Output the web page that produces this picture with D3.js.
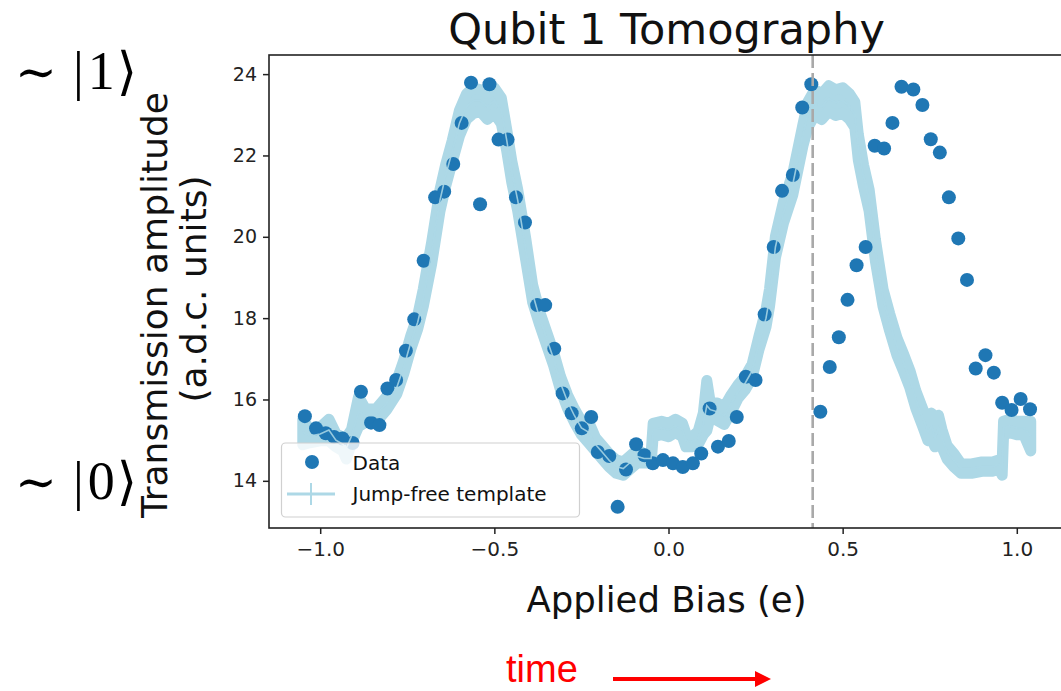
<!DOCTYPE html>
<html>
<head>
<meta charset="utf-8">
<script src="https://cdn.jsdelivr.net/npm/d3@7"></script>
<style>
  html, body { margin: 0; padding: 0; background: #fff; }
  svg { display: block; }
</style>
</head>
<body>
<svg id="chart" width="1061" height="691"></svg>
<script>
// Measured qubit readout versus applied bias
const dataBias = [
  -1.044, -1.012, -0.984, -0.960, -0.936, -0.907, -0.883, -0.854, -0.830, -0.807,
  -0.782, -0.754, -0.730, -0.703, -0.670, -0.644, -0.618, -0.594, -0.567, -0.541,
  -0.514, -0.488, -0.462, -0.438, -0.412, -0.377, -0.354, -0.328, -0.304, -0.278,
  -0.249, -0.222, -0.203, -0.170, -0.146, -0.122, -0.093, -0.069, -0.045, -0.016,
   0.013,  0.041,  0.070,  0.094,  0.118,  0.142,  0.173,  0.196,  0.222,  0.250,
   0.276,  0.302,  0.326,  0.357,  0.384,  0.410,  0.436,  0.463,  0.489,  0.514,
   0.540,  0.566,  0.592,  0.619,  0.643,  0.669,  0.703,  0.729,  0.753,  0.779,
   0.805,  0.832,  0.857,  0.882,  0.910,  0.934,  0.958,  0.985,  1.011,  1.038
];
const dataAmplitude = [
  15.59, 15.29, 15.17, 15.08, 15.04, 14.93, 16.19, 15.43, 15.37, 16.27,
  16.48, 17.20, 17.97, 19.41, 20.97, 21.11, 21.79, 22.80, 23.79, 20.80,
  23.75, 22.39, 22.39, 20.97, 20.35, 18.32, 18.32, 17.25, 16.15, 15.66,
  15.29, 15.57, 14.71, 14.61, 13.36, 14.28, 14.90, 14.63, 14.43, 14.51,
  14.43, 14.34, 14.43, 14.67, 15.78, 14.84, 14.98, 15.57, 16.56, 16.48,
  18.09, 19.75, 21.13, 21.52, 23.18, 23.75, 15.70, 16.80, 17.53, 18.45,
  19.30, 19.75, 22.24, 22.17, 22.80, 23.69, 23.62, 23.24, 22.40, 22.07,
  20.97, 19.96, 18.94, 16.76, 17.09, 16.66, 15.92, 15.74, 16.01, 15.76
];

// Jump-free template: level and error-bar half-height at each bias
const templateBias = [
  -1.050, -1.030, -1.000, -0.975, -0.955, -0.935, -0.925, -0.910, -0.890, -0.870,
  -0.840, -0.810, -0.780, -0.760, -0.740, -0.720, -0.704, -0.680, -0.656, -0.640,
  -0.621, -0.600, -0.580, -0.560, -0.540, -0.520, -0.500, -0.480, -0.465, -0.450,
  -0.433, -0.410, -0.390, -0.370, -0.350, -0.330, -0.310, -0.290, -0.270, -0.250,
  -0.230, -0.210, -0.190, -0.170, -0.150, -0.130, -0.110, -0.090, -0.070, -0.050,
  -0.044, -0.020,  0.000,  0.020,  0.040,  0.050,  0.065,  0.085,  0.100,  0.110,
   0.120,  0.140,  0.160,  0.180,  0.200,  0.220,  0.240,  0.260,  0.280,  0.290,
   0.307,  0.330,  0.357,  0.386,  0.400,  0.420,  0.440,  0.460,  0.480,  0.500,
   0.520,  0.535,  0.545,  0.560,  0.576,  0.594,  0.616,  0.635,  0.656,  0.675,
   0.693,  0.710,  0.730,  0.745,  0.755,  0.765,  0.775,  0.785,  0.800,  0.820,
   0.840,  0.870,  0.900,  0.930,  0.950,  0.958,  0.962,  0.980,  1.000,  1.020,
   1.040
];
const templateLevel = [
  15.20, 15.10, 15.15, 15.25, 15.00, 14.90, 14.80, 15.10, 15.70, 15.60,
  15.60, 15.90, 16.30, 16.80, 17.40, 17.90, 18.50, 19.60, 20.90, 21.50,
  22.10, 22.80, 23.20, 23.35, 23.35, 23.20, 23.35, 23.10, 22.40, 21.60,
  20.90, 19.70, 18.60, 18.00, 17.50, 17.00, 16.40, 15.95, 15.60, 15.30,
  15.20, 14.90, 14.70, 14.50, 14.35, 14.30, 14.45, 14.60, 14.55, 14.55,
  15.25, 15.30, 15.25, 15.35, 15.25, 15.00, 14.95, 15.05, 15.40, 15.85,
  15.75, 15.70, 15.60, 15.90, 16.20, 16.40, 16.70, 17.40, 18.00, 18.50,
  19.75, 20.60, 21.30, 22.50, 23.00, 23.30, 23.20, 23.40, 23.30, 23.35,
  23.20, 23.00, 22.20, 21.50, 20.90, 19.67, 18.50, 17.90, 17.30, 16.90,
  16.50, 16.00, 15.55, 15.20, 15.35, 15.05, 15.30, 15.05, 14.70, 14.50,
  14.30, 14.30, 14.35, 14.35, 14.40, 14.30, 15.30, 15.35, 15.30, 15.30,
  15.10
];
const templateSpread = [
  0.45, 0.30, 0.30, 0.40, 0.30, 0.30, 0.40, 0.30, 0.50, 0.30,
  0.30, 0.30, 0.30, 0.30, 0.30, 0.30, 0.35, 0.40, 0.40, 0.40,
  0.40, 0.45, 0.45, 0.45, 0.40, 0.45, 0.45, 0.45, 0.40, 0.40,
  0.40, 0.40, 0.35, 0.30, 0.30, 0.30, 0.30, 0.30, 0.30, 0.30,
  0.40, 0.30, 0.30, 0.30, 0.30, 0.30, 0.30, 0.30, 0.25, 0.25,
  0.30, 0.30, 0.30, 0.30, 0.30, 0.30, 0.25, 0.30, 0.40, 0.75,
  0.30, 0.35, 0.35, 0.35, 0.30, 0.30, 0.30, 0.30, 0.35, 0.35,
  0.40, 0.40, 0.40, 0.40, 0.45, 0.45, 0.45, 0.45, 0.45, 0.45,
  0.45, 0.45, 0.45, 0.40, 0.40, 0.40, 0.35, 0.35, 0.35, 0.35,
  0.35, 0.35, 0.35, 0.35, 0.45, 0.35, 0.45, 0.35, 0.30, 0.30,
  0.25, 0.25, 0.25, 0.25, 0.25, 0.30, 0.30, 0.30, 0.30, 0.30,
  0.50
];

const xTicks = [-1.0, -0.5, 0.0, 0.5, 1.0];
const yTicks = [14, 16, 18, 20, 22, 24];
const markerBias = [0.414];

const titleText = "Qubit 1 Tomography";
const xLabelText = "Applied Bias (e)";
const yLabelLines = ["Transmission amplitude", "(a.d.c. units)"];
const legendLabels = ["Data", "Jump-free template"];

const FONT = "'DejaVu Sans', sans-serif";
const DATA_COLOR = "#1f77b4";
const TEMPLATE_COLOR = "#add8e6";
const BAND_STROKE = 11;   // px width of the error-bar strokes around the band

const svg = d3.select("#chart");
const defs = svg.append("defs");
const plot = { left: 269, right: 1068, top: 55, bottom: 528 };

const x = d3.scaleLinear().domain([-1.147, 1.147]).range([plot.left, plot.right]);
const y = d3.scaleLinear().domain([12.84, 24.47]).range([plot.bottom, plot.top]);

defs.append("clipPath").attr("id", "plot-clip")
  .append("rect")
  .attr("x", plot.left).attr("y", plot.top)
  .attr("width", plot.right - plot.left).attr("height", plot.bottom - plot.top);

const layer = svg.append("g").attr("clip-path", "url(#plot-clip)");

// template band built from its error bars; the stroke width is taken
// back out of the half-height so the outer edge sits at level ± spread
const template = templateBias.map((b, i) => ({
  b, v: templateLevel[i], s: templateSpread[i]
}));
const inset = v => Math.abs(y.invert(0) - y.invert(BAND_STROKE / 2));
const halfHeight = d => Math.max(d.s - inset(), 0.02);

layer.append("path")
  .datum(template)
  .attr("fill", TEMPLATE_COLOR)
  .attr("stroke", TEMPLATE_COLOR)
  .attr("stroke-width", BAND_STROKE)
  .attr("stroke-linejoin", "round")
  .attr("d", d3.area()
    .x(d => x(d.b))
    .y0(d => y(d.v - halfHeight(d)))
    .y1(d => y(d.v + halfHeight(d))));

// measured points
const points = dataBias.map((b, i) => ({ b, v: dataAmplitude[i] }));
layer.append("g")
  .selectAll("circle")
  .data(points)
  .join("circle")
  .attr("cx", d => x(d.b))
  .attr("cy", d => y(d.v))
  .attr("r", 7)
  .attr("fill", DATA_COLOR);

// template centre line over the points
layer.append("path")
  .datum(template)
  .attr("fill", "none")
  .attr("stroke", TEMPLATE_COLOR)
  .attr("stroke-width", 1.6)
  .attr("opacity", 0.85)
  .attr("d", d3.line().x(d => x(d.b)).y(d => y(d.v)));

// switching bias marker
layer.selectAll("line.marker")
  .data(markerBias)
  .join("line")
  .attr("class", "marker")
  .attr("x1", d => x(d)).attr("x2", d => x(d))
  .attr("y1", plot.top).attr("y2", plot.bottom)
  .attr("stroke", "#a9a9a9")
  .attr("stroke-width", 2.6)
  .attr("stroke-dasharray", "13,5");

// axes
const xAxis = d3.axisBottom(x).tickValues(xTicks).tickSize(6).tickPadding(6)
  .tickFormat(d => d3.format(".1f")(d).replace("-", "\u2212"));
const gx = svg.append("g").attr("transform", `translate(0,${plot.bottom})`).call(xAxis);
gx.select(".domain").remove();
gx.selectAll(".tick line").attr("stroke", "#222").attr("stroke-width", 1.5);
gx.selectAll(".tick text").attr("font-family", FONT).attr("font-size", 20)
  .attr("fill", "#222").attr("dy", "0.78em");

const yAxis = d3.axisLeft(y).tickValues(yTicks).tickSize(6).tickPadding(6)
  .tickFormat(d3.format("d"));
const gy = svg.append("g").attr("transform", `translate(${plot.left},0)`).call(yAxis);
gy.select(".domain").remove();
gy.selectAll(".tick line").attr("stroke", "#222").attr("stroke-width", 1.5);
gy.selectAll(".tick text").attr("font-family", FONT).attr("font-size", 19)
  .attr("fill", "#222");

// frame
svg.append("rect")
  .attr("x", plot.left).attr("y", plot.top)
  .attr("width", plot.right - plot.left).attr("height", plot.bottom - plot.top)
  .attr("fill", "none").attr("stroke", "#222").attr("stroke-width", 1.6);

// title and axis labels
svg.append("text")
  .attr("x", (plot.left + plot.right) / 2 - 2).attr("y", 44)
  .attr("text-anchor", "middle")
  .attr("font-family", FONT).attr("font-size", 43).attr("fill", "#111")
  .text(titleText);

svg.append("text")
  .attr("x", (plot.left + plot.right) / 2 - 2).attr("y", 612)
  .attr("text-anchor", "middle")
  .attr("font-family", FONT).attr("font-size", 35.5).attr("fill", "#111")
  .text(xLabelText);

svg.append("g").selectAll("text")
  .data(yLabelLines)
  .join("text")
  .attr("transform", (d, i) => `translate(${i === 0 ? 167 : 206},${i === 0 ? 305 : 289}) rotate(-90)`)
  .attr("text-anchor", "middle")
  .attr("font-family", FONT).attr("font-size", 36).attr("fill", "#111")
  .text(d => d);

// legend
const legend = svg.append("g");
legend.append("rect")
  .attr("x", 281.5).attr("y", 443).attr("width", 298).attr("height", 74)
  .attr("rx", 4).attr("fill", "#fff").attr("fill-opacity", 0.8)
  .attr("stroke", "#d0d0d0").attr("stroke-width", 1.2);
legend.append("circle")
  .attr("cx", 312).attr("cy", 462).attr("r", 7).attr("fill", DATA_COLOR);
legend.append("line")
  .attr("x1", 287).attr("x2", 335).attr("y1", 494).attr("y2", 494)
  .attr("stroke", TEMPLATE_COLOR).attr("stroke-width", 3);
legend.append("line")
  .attr("x1", 311).attr("x2", 311).attr("y1", 483).attr("y2", 505)
  .attr("stroke", TEMPLATE_COLOR).attr("stroke-width", 2);
legend.selectAll("text.entry")
  .data(legendLabels)
  .join("text")
  .attr("class", "entry")
  .attr("x", 352.5)
  .attr("y", (d, i) => 470 + i * 31)
  .attr("font-family", FONT).attr("font-size", 20).attr("fill", "#111")
  .text(d => d);

// qubit state annotations
const kets = [{ label: "1", y: 89 }, { label: "0", y: 499 }];
const ketGroup = svg.append("g").attr("font-family", "'DejaVu Serif', 'Liberation Serif', serif").attr("fill", "#000");
kets.forEach(k => {
  const t = ketGroup.append("text").attr("x", 15).attr("y", k.y).attr("font-size", 50);
  t.append("tspan").text("\u223C");
  t.append("tspan").attr("dx", 16).attr("font-family", "'Liberation Serif', serif").attr("font-size", 54).text("|");
  t.append("tspan").attr("dx", 4).attr("font-family", "'Liberation Serif', serif").attr("font-size", 54).text(k.label);
  t.append("tspan").attr("dx", 2).attr("font-size", 52).text("\u27E9");
});

// time direction
svg.append("text")
  .attr("x", 506).attr("y", 682)
  .attr("font-family", "'Liberation Sans', Arial, sans-serif")
  .attr("font-size", 38).attr("fill", "#ff0000")
  .text("time");
defs.append("marker")
  .attr("id", "arrow-head")
  .attr("viewBox", "0 0 10 10").attr("refX", 0).attr("refY", 5)
  .attr("markerWidth", 4).attr("markerHeight", 4).attr("markerUnits", "strokeWidth")
  .attr("orient", "auto")
  .append("path").attr("d", "M0,0 L10,5 L0,10 Z").attr("fill", "#ff0000");
svg.append("line")
  .attr("x1", 613).attr("x2", 755).attr("y1", 679).attr("y2", 679)
  .attr("stroke", "#ff0000").attr("stroke-width", 4)
  .attr("marker-end", "url(#arrow-head)");
</script>
</body>
</html>
